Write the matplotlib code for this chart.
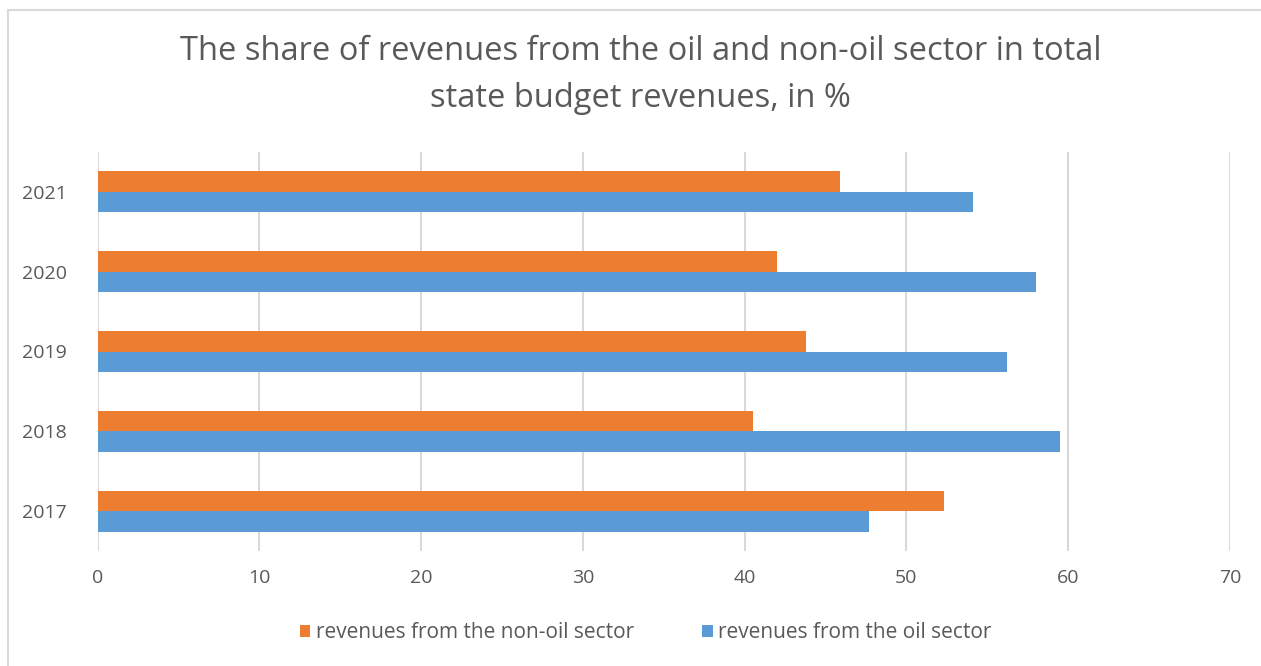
import matplotlib
matplotlib.use("Agg")
import matplotlib.pyplot as plt
from matplotlib.patches import Rectangle
import numpy as np

years = ["2017", "2018", "2019", "2020", "2021"]
non_oil = [52.3, 40.5, 43.8, 42.0, 45.9]
oil = [47.7, 59.5, 56.2, 58.0, 54.1]
x_ticks = [0, 10, 20, 30, 40, 50, 60, 70]

title = "The share of revenues from the oil and non-oil sector in total\nstate budget revenues, in %"
label_non_oil = "revenues from the non-oil sector"
label_oil = "revenues from the oil sector"

ORANGE = "#ED7D31"
BLUE = "#5B9BD5"
TEXT = "#595959"
GRID = "#D9D9D9"

plt.rcParams['font.family'] = ['Open Sans', 'DejaVu Sans']

fig = plt.figure(figsize=(12.61, 6.66), dpi=100)
fig.patches.append(Rectangle((8/1261, -0.01), 1.02, 1 - 10/666 + 0.01, transform=fig.transFigure,
                             fill=False, edgecolor="#D9D9D9", linewidth=1.5, zorder=0))

ax = fig.add_axes([97.5/1261, 115/666, (1230-97.5)/1261, (551-152)/666])
pos = np.arange(len(years))
h = 0.256
ax.barh(pos + h/2, non_oil, height=h, color=ORANGE, label=label_non_oil, zorder=3)
ax.barh(pos - h/2, oil, height=h, color=BLUE, label=label_oil, zorder=3)

ax.set_xlim(0, 70)
ax.set_ylim(-0.5, len(years) - 0.5)
ax.set_xticks(x_ticks)
ax.set_xticklabels([str(t) for t in x_ticks])
ax.set_yticks(pos)
ax.set_yticklabels(years)
ax.tick_params(axis='both', length=0, labelsize=14, colors=TEXT)
ax.tick_params(axis='x', pad=13)
ax.tick_params(axis='y', pad=22)
ax.grid(axis='x', color=GRID, linewidth=1.5, zorder=0)
for s in ax.spines.values():
    s.set_visible(False)

fig.text(0.508, 0.887, title, ha='center', va='center', fontsize=23.5, color=TEXT,
         linespacing=1.55)

leg = fig.legend(loc='center', bbox_to_anchor=(0.512, (666-633)/666),
                 ncol=2, frameon=False, fontsize=15, handlelength=0.5, handleheight=0.5,
                 handletextpad=0.25, columnspacing=3.3)
for t in leg.get_texts():
    t.set_color(TEXT)

fig.savefig("out.png", dpi=100)
